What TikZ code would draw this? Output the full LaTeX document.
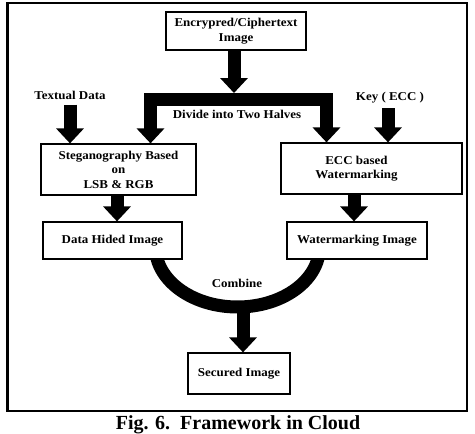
\documentclass[tikz,border=0pt]{standalone}
\usepackage{fontspec}
\setmainfont{Liberation Serif}[FakeStretch=1.08]
\newfontfamily\captionfont{Liberation Serif}
\usetikzlibrary{arrows.meta}

\begin{document}
\begin{tikzpicture}[x=1pt,y=-1pt,
  box/.style={draw,line width=1.2pt,fill=white,align=center,font=\bfseries\fontsize{12}{14.5}\selectfont},
  txt/.style={font=\bfseries\fontsize{12}{14.5}\selectfont},
  fat/.style={line width=13pt,line join=miter},
  fatarrow/.style={fat,-{Triangle[width=27pt,length=15pt]}}]

\useasboundingbox (0,0) rectangle (475,434);

% outer frame
\draw[line width=2.4pt] (7.5,3) rectangle (467,411);

% combine arc (under the boxes)
\coordinate (merge) at (237.5,247);
\coordinate (join) at (243,306);
\draw[fat] (merge) ++(-82,0) arc[start angle=180,end angle=360,x radius=82pt,y radius=60pt];

% boxes
\node (rect) at (236,31) [box,minimum width=140pt,minimum height=38pt] (enc) {Encrypred/Ciphertext\\Image};
\node (rect) at (118.5,169.5) [box,minimum width=155pt,minimum height=51pt] (steg) {Steganography Based\\on\\LSB \& RGB};
\node (rect) at (371.5,168.5) [box,minimum width=181pt,minimum height=51pt,
  label={[txt,align=center,xshift=-15pt]center:ECC based\\Watermarking}] (ecc) {};
\node (rect) at (112.5,240.5) [box,minimum width=139pt,minimum height=37pt] (dhi) {Data Hided Image};
\node (rect) at (357,240.5) [box,minimum width=140pt,minimum height=37pt] (wmi) {Watermarking Image};
\node (rect) at (239,373.5) [box,minimum width=102pt,minimum height=41pt] (sec) {Secured Image};

% labels
\node at (70,99) [txt,anchor=base] (textual) {Textual Data};
\node at (390,100) [txt,anchor=base] (key) {Key ( ECC )};
\node at (237,118) [txt,anchor=base] (divide) {Divide into Two Halves};
\node at (237,287) [txt,anchor=base] (combine) {Combine};
\node at (238,429) [anchor=base,font=\captionfont\bfseries\fontsize{20}{24}\selectfont] (caption) {Fig. 6.\ \ Framework in Cloud};

% arrows
\coordinate (fork) at (234,93);
\draw[fatarrow] ([xshift=-2pt]enc.south) -- (fork);
\draw[fatarrow] ([yshift=-6.5pt]fork) -| ([xshift=32pt]steg.north);
\draw[fatarrow] ([yshift=-6.5pt]fork) -| ([xshift=-45pt]ecc.north);
\draw[fatarrow] ([yshift=-2pt]textual.south) -- (textual |- steg.north);
\draw[fatarrow] ([xshift=-2pt,yshift=-2pt]key.south) -- ([xshift=-2pt]key |- ecc.north);
\draw[fatarrow] ([xshift=-1.5pt]steg.south) -- ([xshift=-1.5pt]steg.south |- dhi.north);
\draw[fatarrow] ([xshift=-3pt]wmi.north |- ecc.south) -- ([xshift=-3pt]wmi.north);
\draw[fatarrow] (join) -- (join |- sec.north);

\end{tikzpicture}
\end{document}
